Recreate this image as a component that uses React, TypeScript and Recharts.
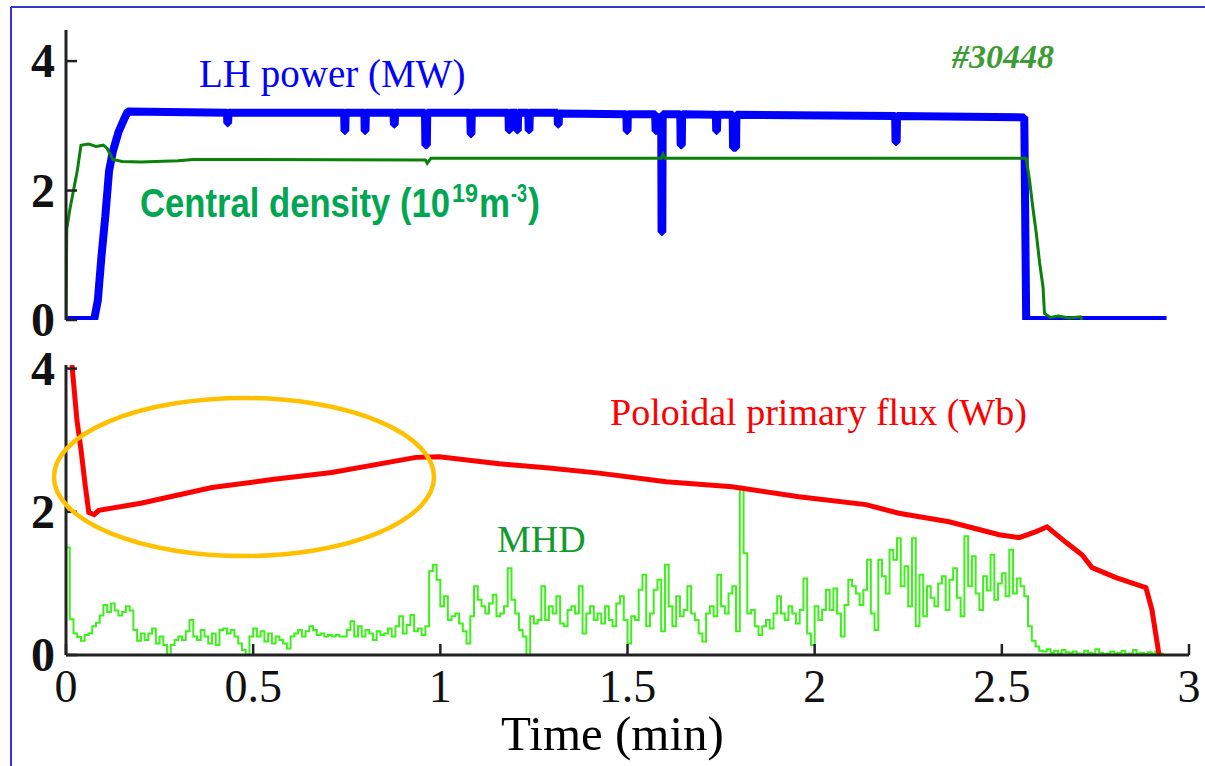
import React from 'react';
import { LineChart, Line, XAxis, YAxis } from 'recharts';

// time axis (min)
const timeTicks = [0, 0.5, 1, 1.5, 2, 2.5, 3];
const yTicks = [0, 2, 4];

// LH power (MW): [t, value]
const lhPower: [number, number][] = [
  [0, 0], [0.075, 0], [0.085, 0.3], [0.095, 1.0], [0.105, 1.6], [0.115, 2.3], [0.125, 2.6],
  [0.14, 2.9], [0.155, 3.1], [0.165, 3.22], [0.43, 3.2], [0.431, 3.04], [0.433, 3.04], [0.434, 3.2],
  [0.743, 3.2], [0.744, 2.92], [0.746, 2.92], [0.747, 3.2], [0.797, 3.2], [0.798, 2.92], [0.8, 2.92],
  [0.801, 3.2], [0.875, 3.2], [0.876, 3.02], [0.878, 3.02], [0.879, 3.2], [0.959, 3.2], [0.96, 2.7],
  [0.964, 2.7], [0.965, 3.2], [1.08, 3.2], [1.081, 2.87], [1.083, 2.87], [1.084, 3.2], [1.182, 3.2],
  [1.183, 2.93], [1.185, 2.93], [1.186, 3.2], [1.204, 3.2], [1.205, 2.93], [1.207, 2.93], [1.208, 3.2],
  [1.235, 3.2], [1.236, 2.93], [1.238, 2.93], [1.239, 3.2], [1.313, 3.2], [1.314, 3.02], [1.316, 3.02],
  [1.317, 3.19], [1.497, 3.18], [1.498, 2.92], [1.5, 2.92], [1.501, 3.18], [1.574, 3.18], [1.575, 2.92],
  [1.577, 2.92], [1.59, 3.18], [1.591, 1.36], [1.593, 1.36], [1.594, 3.18], [1.641, 3.18], [1.642, 2.7],
  [1.645, 2.7], [1.646, 3.18], [1.736, 3.17], [1.737, 2.92], [1.739, 2.92], [1.74, 3.17], [1.781, 3.17],
  [1.782, 2.66], [1.79, 2.66], [1.791, 3.17], [2.215, 3.15], [2.216, 2.75], [2.219, 2.75], [2.22, 3.15],
  [2.56, 3.13], [2.565, 0], [2.94, 0],
];

// central density (1e19 m^-3)
const density: [number, number][] = [
  [0, 0], [0.002, 1.4], [0.01, 1.7], [0.02, 2.0], [0.03, 2.3], [0.04, 2.7], [0.06, 2.72], [0.08, 2.68],
  [0.1, 2.7], [0.11, 2.65], [0.125, 2.48], [0.15, 2.45], [0.2, 2.44], [0.3, 2.46], [0.34, 2.48],
  [0.5, 2.48], [0.96, 2.47], [0.965, 2.42], [0.975, 2.5], [1.2, 2.5], [1.59, 2.5], [1.595, 2.56],
  [1.6, 2.5], [2.0, 2.5], [2.565, 2.5], [2.574, 2.16], [2.583, 1.73], [2.592, 1.34], [2.601, 0.88],
  [2.61, 0.51], [2.614, 0.1], [2.63, 0.04], [2.65, 0.06], [2.68, 0.03], [2.71, 0.05], [2.714, 0],
];

// poloidal primary flux (Wb)
const flux: [number, number][] = [
  [0.016, 4.05], [0.022, 3.7], [0.029, 3.29], [0.04, 2.87], [0.051, 2.38], [0.061, 1.99], [0.075, 1.96],
  [0.088, 2.02], [0.2, 2.12], [0.39, 2.34], [0.55, 2.45], [0.71, 2.55], [0.935, 2.76], [0.997, 2.77],
  [1.157, 2.67], [1.29, 2.61], [1.424, 2.54], [1.603, 2.42], [1.779, 2.35], [1.958, 2.21], [2.137, 2.1],
  [2.225, 1.98], [2.359, 1.86], [2.493, 1.68], [2.546, 1.64], [2.59, 1.72], [2.621, 1.79], [2.672, 1.57],
  [2.714, 1.4], [2.741, 1.22], [2.805, 1.08], [2.885, 0.94], [2.901, 0.63], [2.92, 0],
];

// MHD signal, sampled every 0.01 min from t = 0
const MHD_STEP = 0.01;
const mhd = [
  1.5, 0.5, 0.3, 0.25, 0.2, 0.28, 0.3, 0.4, 0.45, 0.55,
  0.7, 0.6, 0.72, 0.62, 0.55, 0.6, 0.68, 0.62, 0.35, 0.2,
  0.3, 0.21, 0.3, 0.37, 0.16, 0.26, 0.14, 0, 0.14, 0.21,
  0.26, 0.21, 0.33, 0.49, 0.26, 0.21, 0.35, 0.26, 0.16, 0.3,
  0.14, 0.35, 0.37, 0.3, 0.35, 0.26, 0.16, 0.07, 0, 0.26,
  0.37, 0.26, 0.33, 0.19, 0.3, 0.16, 0.26, 0.21, 0.16, 0.09,
  0.26, 0.3, 0.35, 0.26, 0.33, 0.4, 0.35, 0.28, 0.3, 0.26,
  0.28, 0.26, 0.28, 0.26, 0.26, 0.35, 0.47, 0.26, 0.4, 0.26,
  0.35, 0.3, 0.21, 0.33, 0.28, 0.3, 0.37, 0.26, 0.4, 0.54,
  0.3, 0.42, 0.56, 0.33, 0.37, 0.28, 0.4, 1.17, 1.26, 1.05,
  0.68, 0.82, 0.49, 0.54, 0.58, 0.44, 0.33, 0.16, 0.54, 0.96,
  0.77, 0.68, 0.58, 0.72, 0.84, 0.54, 0.58, 0.68, 1.21, 0.77,
  0.58, 0.35, 0.26, 0, 0.54, 0.44, 0.49, 0.96, 0.49, 0.68,
  0.58, 0.82, 0.44, 0.4, 0.63, 0.68, 0.58, 0.96, 0.3, 0.58,
  0.68, 0.49, 0.58, 0.44, 0.68, 0.49, 0.4, 0.72, 0.82, 0.49,
  0.16, 0.54, 0.49, 0.91, 1.12, 0.4, 0.58, 0.91, 1.05, 0.33,
  1.26, 0.68, 0.4, 0.82, 0.54, 0.63, 0.96, 0.58, 0.49, 0.3,
  0.19, 0.58, 0.68, 0.54, 1.12, 0.68, 0.58, 0.86, 0.96, 0.33,
  2.35, 1.42, 0.58, 0.63, 0.4, 0.28, 0.4, 0.49, 0.37, 0.58,
  0.82, 0.58, 0.49, 0.68, 0.58, 0.44, 0.63, 1.07, 0.3, 0.14,
  0.68, 0.49, 0.63, 0.91, 0.63, 0.93, 0.58, 0.26, 0.7, 1.05,
  0.96, 0.86, 0.7, 0.91, 1.33, 0.58, 0.35, 1.33, 1.1, 0.86,
  1.47, 1.33, 1.63, 0.96, 1.24, 0.68, 1.63, 0.4, 1.12, 0.54,
  0.96, 0.8, 0.68, 1.0, 1.1, 0.63, 1.05, 1.21, 0.8, 0.54,
  1.66, 0.96, 1.38, 0.86, 0.63, 1.1, 0.9, 1.4, 0.77, 1.0,
  1.14, 0.82, 1.47, 0.86, 1.07, 0.96, 0.82, 0.4, 0.2, 0.12,
  0.06, 0.05, 0.08, 0.03, 0.06, 0.02, 0.07, 0.04, 0.03, 0.05,
  0.02, 0.01, 0.06, 0.03, 0.02, 0.08, 0.03, 0.01, 0.02, 0.05,
  0.02, 0.03, 0.06, 0.01, 0.02, 0.07, 0.02, 0.03, 0.01, 0.04,
  0.02, 0.05, 0.02, 0,
];

const toRows = (pts: [number, number][]) => pts.map(([t, v]) => ({ t, v }));
const mhdRows = mhd.map((v, i) => ({ t: +(i * MHD_STEP).toFixed(2), v }));

const AXIS = '#222';
const TICK_LEN = 11;
const SERIF = '"Liberation Serif", "Times New Roman", serif';
const SANS = '"Liberation Sans", Arial, sans-serif';

const LeftTick = (p: any) => (
  <g>
    <line x1={p.x} y1={p.y} x2={p.x + TICK_LEN} y2={p.y} stroke={AXIS} strokeWidth={2.5} />
    <text x={p.x - 11} y={p.y} dy="0.34em" textAnchor="end" fontFamily={SERIF} fontWeight="bold" fontSize={48} fill="#111">
      {p.payload.value}
    </text>
  </g>
);
const RightTick = (p: any) => (
  <line x1={p.x} y1={p.y} x2={p.x - TICK_LEN} y2={p.y} stroke={AXIS} strokeWidth={2.5} />
);
const TopTick = (p: any) => (
  <line x1={p.x} y1={p.y} x2={p.x} y2={p.y + TICK_LEN} stroke={AXIS} strokeWidth={2.5} />
);
const BottomTick = (p: any) => (
  <line x1={p.x} y1={p.y} x2={p.x} y2={p.y - TICK_LEN} stroke={AXIS} strokeWidth={2.5} />
);
const BottomTickLabeled = (p: any) => (
  <g>
    <line x1={p.x} y1={p.y} x2={p.x} y2={p.y - TICK_LEN} stroke={AXIS} strokeWidth={2.5} />
    <text x={p.x} y={p.y + 47} textAnchor="middle" fontFamily={SERIF} fontSize={46} fill="#111">
      {p.payload.value}
    </text>
  </g>
);

const axisLine = { stroke: AXIS, strokeWidth: 3 };

export default function App() {
  return (
    <div style={{ position: 'absolute', left: 0, top: 0, width: 1205, height: 766, background: '#fff', overflow: 'hidden' }}>
      <div style={{ position: 'absolute', left: 0, top: 0 }}>
        <LineChart width={1205} height={345} margin={{ top: 30, right: 16, bottom: 25, left: 0 }}>
          <XAxis dataKey="t" type="number" domain={[0, 3]} ticks={timeTicks} allowDataOverflow
            height={0} tickSize={0} tickMargin={0} axisLine={axisLine} tick={BottomTick} />
          <XAxis xAxisId="top" orientation="top" dataKey="t" type="number" domain={[0, 3]} ticks={timeTicks}
            height={0} tickSize={0} tickMargin={0} axisLine={axisLine} tick={TopTick} />
          <YAxis type="number" domain={[0, 4.48]} ticks={yTicks} allowDataOverflow width={66}
            tickSize={0} tickMargin={0} axisLine={axisLine} tick={LeftTick} />
          <YAxis yAxisId="right" orientation="right" type="number" domain={[0, 4.48]} ticks={yTicks} width={0}
            tickSize={0} tickMargin={0} axisLine={axisLine} tick={RightTick} />
          <Line data={toRows(lhPower)} dataKey="v" stroke="#0000ff" strokeWidth={8} dot={false}
            isAnimationActive={false} strokeLinejoin="bevel" />
          <Line data={toRows(density)} dataKey="v" stroke="#0b800b" strokeWidth={3} dot={false}
            isAnimationActive={false} />
        </LineChart>
      </div>
      <div style={{ position: 'absolute', left: 0, top: 335 }}>
        <LineChart width={1205} height={431} margin={{ top: 30, right: 16, bottom: 11, left: 0 }}>
          <XAxis dataKey="t" type="number" domain={[0, 3]} ticks={timeTicks} allowDataOverflow
            height={100} tickSize={0} tickMargin={0} axisLine={axisLine} tick={BottomTickLabeled}
            label={{ value: 'Time (min)', position: 'insideBottom', offset: 5, dx: -15, fontSize: 49, fontFamily: SERIF, fill: '#000' }} />
          <XAxis xAxisId="top" orientation="top" dataKey="t" type="number" domain={[0, 3]} ticks={timeTicks}
            height={0} tickSize={0} tickMargin={0} axisLine={axisLine} tick={TopTick} />
          <YAxis type="number" domain={[0, 4.05]} ticks={yTicks} allowDataOverflow width={66}
            tickSize={0} tickMargin={0} axisLine={axisLine} tick={LeftTick} />
          <YAxis yAxisId="right" orientation="right" type="number" domain={[0, 4.05]} ticks={yTicks} width={0}
            tickSize={0} tickMargin={0} axisLine={axisLine} tick={RightTick} />
          <Line data={mhdRows} dataKey="v" type="stepAfter" stroke="#3cf01a" strokeWidth={2} dot={false}
            isAnimationActive={false} />
          <Line data={toRows(flux)} dataKey="v" stroke="#ff0000" strokeWidth={5} dot={false}
            isAnimationActive={false} />
        </LineChart>
      </div>
      <svg width={1205} height={766} style={{ position: 'absolute', left: 0, top: 0, pointerEvents: 'none' }}>
        <line x1={11} y1={7} x2={1205} y2={7} stroke="#3535d0" strokeWidth={2} />
        <line x1={11} y1={7} x2={11} y2={766} stroke="#3535d0" strokeWidth={2} />
        <text x={199} y={87} fontFamily={SERIF} fontSize={39} fill="#0000ff">LH power (MW)</text>
        <text x={952} y={68} fontFamily={SERIF} fontSize={34} fontWeight="bold" fontStyle="italic" fill="#3d9b35">#30448</text>
        <g fontFamily={SANS} fontWeight="bold" fill="#00a651">
          <text x={140} y={217} fontSize={40} textLength={310} lengthAdjust="spacingAndGlyphs">Central density (10</text>
          <text x={452} y={202} fontSize={26} textLength={26} lengthAdjust="spacingAndGlyphs">19</text>
          <text x={479} y={217} fontSize={40} textLength={31} lengthAdjust="spacingAndGlyphs">m</text>
          <text x={511} y={202} fontSize={26} textLength={16} lengthAdjust="spacingAndGlyphs">-3</text>
          <text x={528} y={217} fontSize={40} textLength={12} lengthAdjust="spacingAndGlyphs">)</text>
        </g>
        <text x={610} y={425} fontFamily={SERIF} fontSize={38} fill="#ff0000">Poloidal primary flux (Wb)</text>
        <text x={497} y={552} fontFamily={SERIF} fontSize={38} fill="#139a2f">MHD</text>
        <ellipse cx={244} cy={477} rx={190} ry={79} fill="none" stroke="#ffc000" strokeWidth={4.5} />
      </svg>
    </div>
  );
}
